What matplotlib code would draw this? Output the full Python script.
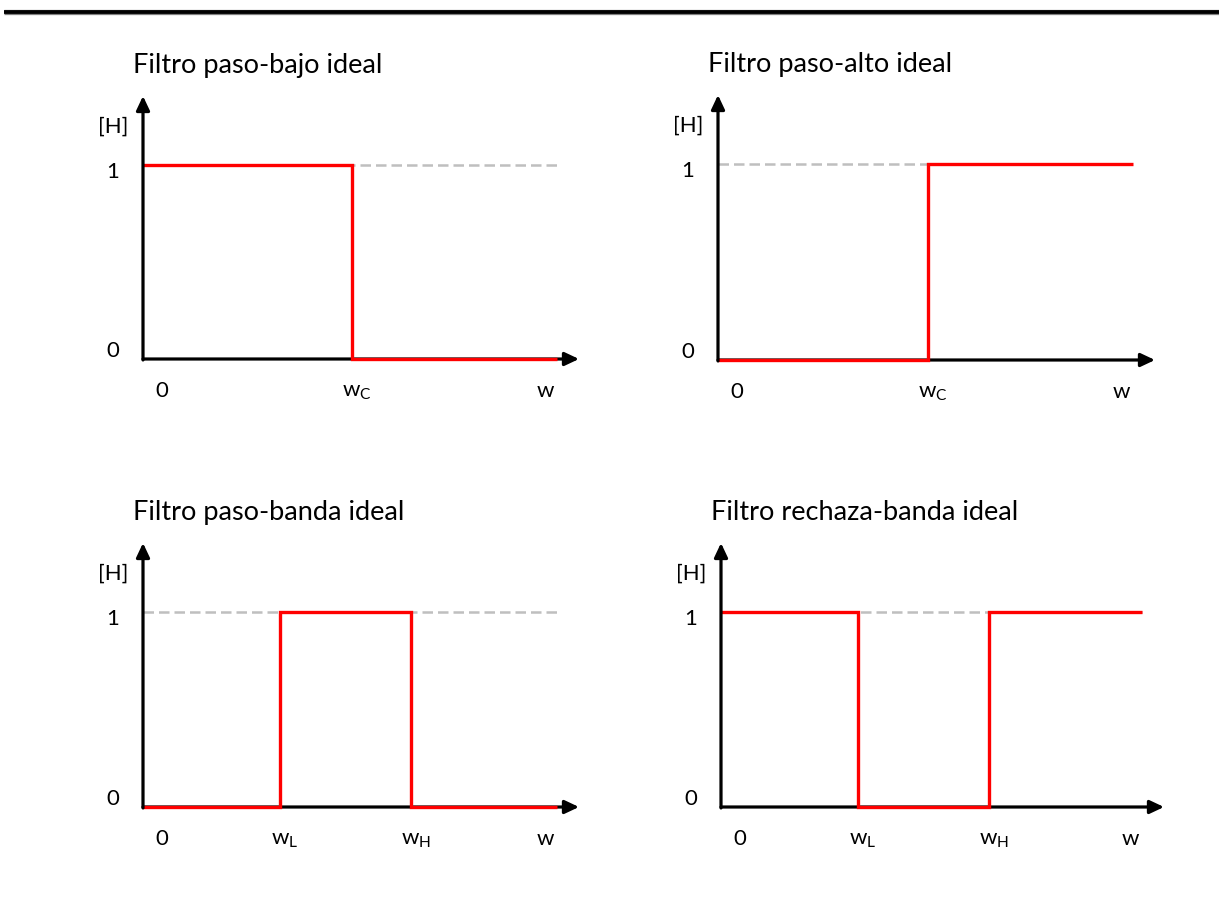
import matplotlib.pyplot as plt
from matplotlib.lines import Line2D

plt.rcParams['font.family'] = ['Lato', 'DejaVu Sans']
plt.rcParams['mathtext.fontset'] = 'custom'
plt.rcParams['mathtext.rm'] = 'Lato'
plt.rcParams['mathtext.it'] = 'Lato'

# --- datos: respuesta ideal |H| de cada filtro (frecuencia normalizada 0..1) ---
titulos = ["Filtro paso-bajo ideal", "Filtro paso-alto ideal",
           "Filtro paso-banda ideal", "Filtro rechaza-banda ideal"]

bordes_pbajo = [0, 0.505, 1]
H_pbajo = [1, 0]
etq_pbajo = [r"$\mathregular{w_C}$"]

bordes_palto = [0, 0.506, 1]
H_palto = [0, 1]
etq_palto = [r"$\mathregular{w_C}$"]

bordes_pbanda = [0, 0.331, 0.647, 1]
H_pbanda = [0, 1, 0]
etq_pbanda = [r"$\mathregular{w_L}$", r"$\mathregular{w_H}$"]

bordes_rbanda = [0, 0.325, 0.637, 1]
H_rbanda = [1, 0, 1]
etq_rbanda = [r"$\mathregular{w_L}$", r"$\mathregular{w_H}$"]

etq_y = ["0", "1"]
etq_eje_y = "[H]"
etq_eje_x = "w"

# tamaño de la figura en pixeles
W, H = 1219, 904
fig = plt.figure(figsize=(W / 100, H / 100), dpi=100)

# raya negra de cabecera
fig.add_artist(Line2D([4 / W, 1], [1 - 12.5 / H] * 2, transform=fig.transFigure,
                      color='#808080', lw=3.8, solid_capstyle='butt'))
fig.add_artist(Line2D([4 / W, 1], [1 - 12.5 / H] * 2, transform=fig.transFigure,
                      color='black', lw=2.7, solid_capstyle='butt'))

# (origen x, origen y, ancho, alto) de cada panel en pixeles
paneles = [
    (titulos[0], bordes_pbajo, H_pbajo, etq_pbajo, (143, 360, 414, 194)),
    (titulos[1], bordes_palto, H_palto, etq_palto, (718, 361, 415, 196)),
    (titulos[2], bordes_pbanda, H_pbanda, etq_pbanda, (143, 808, 414, 195)),
    (titulos[3], bordes_rbanda, H_rbanda, etq_rbanda, (721, 808, 421, 195)),
]

flecha = '-|>,head_length=0.85,head_width=0.4'
fs_titulo = 19.5
fs_etq = 16

for titulo, bordes, valores, etiquetas, (ox, oy, ux, uy) in paneles:
    ax = fig.add_axes([ox / W, 1 - oy / H, ux / W, uy / H])
    ax.set_xlim(0, 1)
    ax.set_ylim(0, 1)
    ax.axis('off')

    xtip = 1 + 22 / ux
    ytip = 1 + 69 / uy

    # linea punteada en H = 1
    ax.plot([0, 1], [1, 1], color='#bfbfbf', lw=1.8, ls=(0, (4.2, 2.0)),
            clip_on=False, zorder=1)

    # eje x y eje y con flecha
    ax.annotate('', xy=(xtip, 0), xytext=(0, 0), annotation_clip=False, zorder=2,
                arrowprops=dict(arrowstyle=flecha, color='black', lw=2.3,
                                shrinkA=0, shrinkB=0))
    ax.annotate('', xy=(0, ytip), xytext=(0, -0.005), annotation_clip=False, zorder=4,
                arrowprops=dict(arrowstyle=flecha, color='black', lw=2.3,
                                shrinkA=0, shrinkB=0))

    # respuesta ideal del filtro
    ax.stairs(valores, bordes, baseline=None, color='#ff0000', lw=2.4,
              clip_on=False, zorder=3)

    # titulo
    ax.annotate(titulo, xy=(0, ytip), xytext=(-10, 24), textcoords='offset pixels',
                ha='left', va='baseline', fontsize=fs_titulo, annotation_clip=False)

    # etiquetas del eje y
    ax.annotate(etq_y[1], xy=(0, 1), xytext=(-30, -12), textcoords='offset pixels',
                ha='center', va='baseline', fontsize=fs_etq, annotation_clip=False)
    ax.annotate(etq_y[0], xy=(0, 0), xytext=(-30, 3), textcoords='offset pixels',
                ha='center', va='baseline', fontsize=fs_etq, annotation_clip=False)
    ax.annotate(etq_eje_y, xy=(0, 1), xytext=(-30, 33), textcoords='offset pixels',
                ha='center', va='baseline', fontsize=fs_etq, annotation_clip=False)

    # etiquetas del eje x
    ax.annotate("0", xy=(0, 0), xytext=(19, -37), textcoords='offset pixels',
                ha='center', va='baseline', fontsize=fs_etq, annotation_clip=False)
    for b, etq in zip(bordes[1:-1], etiquetas):
        ax.annotate(etq, xy=(b, 0), xytext=(5, -37), textcoords='offset pixels',
                    ha='center', va='baseline', fontsize=fs_etq, annotation_clip=False)
    ax.annotate(etq_eje_x, xy=(1, 0), xytext=(-12, -37), textcoords='offset pixels',
                ha='center', va='baseline', fontsize=fs_etq, annotation_clip=False)

fig.savefig("out.png", dpi=100)
